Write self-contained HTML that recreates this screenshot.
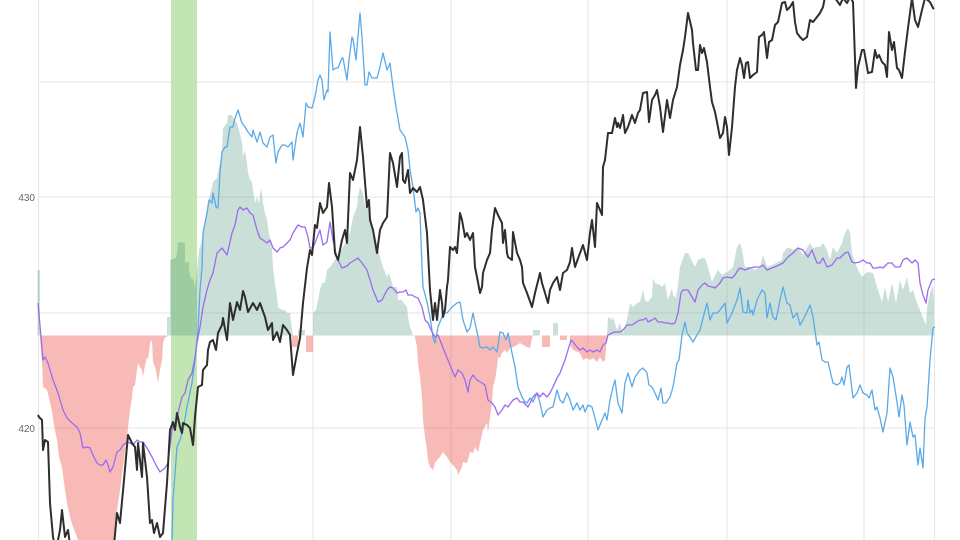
<!DOCTYPE html>
<html><head><meta charset="utf-8"><style>
html,body{margin:0;padding:0;background:#fff;}
svg{display:block;}
text{font-family:"Liberation Sans",sans-serif;font-size:10px;fill:#666;}
</style></head><body>
<svg width="960" height="540" viewBox="0 0 960 540" xmlns="http://www.w3.org/2000/svg">
<g stroke="#e6e6e6" stroke-width="1" fill="none">
<line x1="38" y1="82" x2="934" y2="82"/>
<line x1="38" y1="197" x2="934" y2="197"/>
<line x1="38" y1="313" x2="934" y2="313"/>
<line x1="38" y1="428" x2="934" y2="428"/>
<line x1="38.5" y1="0" x2="38.5" y2="540"/>
<line x1="176" y1="0" x2="176" y2="540"/>
<line x1="313" y1="0" x2="313" y2="540"/>
<line x1="451" y1="0" x2="451" y2="540"/>
<line x1="588" y1="0" x2="588" y2="540"/>
<line x1="727" y1="0" x2="727" y2="540"/>
<line x1="864" y1="0" x2="864" y2="540"/>
<line x1="934.5" y1="0" x2="934.5" y2="540"/>
</g>
<text x="35" y="201" text-anchor="end">430</text>
<text x="35" y="432" text-anchor="end">420</text>
<rect x="171" y="0" width="26" height="540" fill="#c2e5b3"/>
<!-- positive bars -->
<g fill="rgba(60,140,110,0.28)">
<polygon points="37.5,335.5 37.5,270 40,270 40,335.5"/>
<polygon points="167,335.5 167,317 170,317 170,260 176,258 177,253 178,242 185,243 185,263 189,262 189,270 191,278 194,280 194,288 196,280 197,270 199,250 202,240 203,230 205,220 208,203 212,187 213,182 217,178 218,172 222,153 223,128 227,123 228,115 232,115 233,118 237,123 239,130 242,143 243,157 245,150 247,163 248,173 250,180 252,182 253,190 255,203 257,197 259,203 261,188 262,193 263,203 265,213 267,220 269,233 272,250 273,267 275,283 277,297 278,307 282,310 285,310 287,313 290,313 292,330 293,335.5"/>
<polygon points="298,335.5 298,330 305,330 305,335.5"/>
<polygon points="313,335.5 313,313 316,310 320,290 322,283 325,283 327,270 330,267 333,263 337,257 340,253 343,247 347,240 350,233 353,217 357,207 358,197 360,187 363,193 365,207 368,200 370,213 373,227 377,243 380,257 383,267 387,277 389,273 392,283 393,287 397,287 398,300 402,300 403,302 407,307 408,317 410,327 413,335 414,335.5"/>
<polygon points="533,335.5 533,330 540,330 540,335.5"/>
<polygon points="553,335.5 553,323 558,323 558,335.5"/>
<polygon points="607,335.5 608,317 612,320 613,317 617,330 620,323 623,333 627,320 630,303 633,307 637,303 640,302 643,290 645,300 648,302 652,297 653,278 655,283 660,285 662,287 665,283 668,300 672,288 673,295 676,298 678,285 680,267 685,253 688,253 690,257 693,263 695,267 698,260 702,258 705,258 708,267 712,282 715,275 718,270 722,275 727,272 730,270 733,267 737,247 740,243 742,250 745,267 750,267 755,270 760,267 763,255 767,267 772,265 778,262 782,260 783,253 787,248 790,248 793,250 797,248 800,250 803,255 807,248 810,243 813,248 817,247 820,247 823,243 827,250 830,260 833,247 837,253 840,247 842,243 845,233 848,228 850,233 852,253 855,263 857,267 858,270 862,277 867,272 873,273 878,290 882,302 885,287 888,302 892,283 896,303 900,280 903,290 907,277 910,293 913,290 917,303 920,310 923,318 926,325 927,308 930,293 933,285 934,303 934,335.5"/>
</g>
<!-- negative bars -->
<g fill="rgba(235,90,80,0.42)">
<polygon points="40,335.5 40,337 42,363 43,387 45,388 47,390 49,398 52,412 54,425 57,440 59,457 62,467 64,483 67,503 70,517 73,527 77,537 80,545 113,545 117,510 120,490 123,467 127,437 130,410 132,398 133,387 135,385 137,370 138,363 140,367 142,370 143,377 145,365 147,357 148,360 150,343 152,340 153,362 156,370 158,383 160,370 162,360 163,343 165,337 167,337 167,335.5"/>
<polygon points="292,335.5 292,347 298,347 298,335.5"/>
<polygon points="306,335.5 306,352 313,352 313,335.5"/>
<polygon points="414,335.5 415,337 417,347 418,363 420,377 422,397 423,420 425,437 427,450 428,460 430,467 433,470 435,463 437,460 440,457 443,452 447,457 450,462 453,465 457,470 458,475 462,467 463,462 467,463 470,452 473,453 475,447 478,452 480,443 483,430 487,423 488,432 490,417 492,403 493,387 495,380 497,367 498,357 500,358 502,353 505,350 507,353 510,348 513,347 517,345 520,343 523,345 527,347 530,348 532,338 533,335.5"/>
<polygon points="542,335.5 542,347 550,347 550,335.5"/>
<polygon points="560,335.5 560,340 567,340 567,335.5"/>
<polygon points="570,335.5 570,345 573,350 580,353 583,360 587,358 590,360 593,358 597,362 600,357 603,362 605,360 607,337 607,335.5"/>
</g>
<!-- blue -->
<polyline fill="none" stroke="#5aa9e8" stroke-width="1.3" stroke-linejoin="round" points="168,560 172,540 173,500 177,447 180,440 183,430 187,407 192,383 195,360 198,330 200,290 202,268 203,233 207,213 209,200 212,203 213,193 216,207 218,208 220,173 222,152 225,147 227,147 230,127 233,127 235,118 238,110 242,123 245,127 248,132 252,137 253,130 257,142 260,132 263,143 267,147 270,137 273,135 276,163 278,152 282,145 285,145 288,147 292,142 293,160 297,133 300,123 303,137 306,103 308,107 312,108 315,97 318,80 320,75 322,80 324,100 327,90 328,92 330,32 333,70 336,68 338,68 342,58 343,58 347,80 349,60 352,37 353,39 356,60 360,13 362,37 365,85 367,85 369,72 372,78 377,78 380,67 383,53 387,70 390,63 393,87 396,107 400,130 405,137 408,150 410,170 413,187 416,212 418,208 420,213 422,267 423,287 427,302 430,317 433,337 435,343 438,327 442,317 443,313 447,313 452,307 457,303 460,302 463,320 467,332 470,328 473,313 477,332 480,347 483,348 487,347 490,350 493,347 497,352 500,332 503,333 506,340 508,333 512,353 515,367 518,387 522,397 525,402 527,403 530,398 533,402 537,393 540,403 543,417 547,410 550,408 553,407 557,390 560,400 563,403 567,393 570,400 573,410 577,403 580,410 583,405 585,412 588,405 592,407 595,418 598,430 602,420 605,413 607,420 610,400 613,387 615,380 618,403 622,413 625,383 628,373 632,387 635,377 640,370 643,368 647,373 649,385 652,387 655,393 658,400 661,388 663,403 666,403 670,397 673,387 677,363 679,360 682,335 685,322 687,333 690,337 693,342 697,335 700,330 703,318 707,303 710,320 713,313 717,313 720,310 725,303 727,323 732,313 737,300 740,288 743,312 747,313 748,300 750,313 752,310 753,315 757,300 762,290 765,293 767,318 770,303 773,317 776,320 780,300 783,287 787,303 790,305 793,318 797,313 800,325 803,320 807,312 810,305 813,317 817,345 819,342 822,360 825,362 828,362 833,383 837,385 840,383 842,377 844,385 847,367 849,365 853,398 857,393 860,385 863,393 867,395 869,398 872,390 875,410 877,407 880,418 883,432 887,413 890,368 893,377 897,402 899,417 902,395 904,405 907,445 910,422 913,437 915,435 918,465 920,448 923,468 925,418 927,407 930,360 933,328 935,327"/>
<!-- purple -->
<polyline fill="none" stroke="#9b6bef" stroke-width="1.3" stroke-linejoin="round" points="38,303 41,337 43,360 45,357 48,363 53,380 58,393 63,410 67,418 72,423 77,427 80,433 83,448 87,447 90,448 93,455 97,463 100,465 103,465 106,460 108,465 110,472 113,467 117,452 120,450 123,445 127,442 130,443 133,445 137,440 140,442 143,442 147,448 152,457 157,467 160,472 165,468 168,463 172,430 175,423 178,413 182,397 185,393 188,380 192,373 195,357 197,343 200,327 203,307 207,290 210,280 213,273 217,253 222,248 227,255 232,233 235,225 238,210 240,207 243,210 247,208 250,213 253,215 257,230 260,238 263,240 267,243 270,240 273,248 277,252 280,248 283,247 290,240 293,233 298,225 302,227 305,227 308,237 310,248 313,248 318,235 320,230 323,245 327,242 330,222 333,240 337,258 342,268 347,266 350,263 355,260 358,258 362,263 367,270 370,280 373,290 378,302 382,300 387,290 390,287 393,288 397,293 400,292 403,292 406,290 408,295 412,295 415,297 418,298 422,307 425,320 428,323 432,332 435,337 438,335 442,345 445,353 448,360 452,370 455,377 458,370 462,373 465,380 468,392 470,380 473,375 477,380 482,383 485,385 488,400 492,403 495,407 498,415 502,410 505,405 508,407 513,400 517,398 520,402 523,402 528,407 533,397 537,393 540,397 543,393 547,397 550,393 553,387 557,378 560,373 565,360 568,350 571,340 573,342 577,347 580,350 583,348 587,352 590,350 593,352 597,350 600,352 603,345 606,343 608,335 612,333 615,332 620,332 623,330 627,325 632,325 635,323 640,320 643,320 646,318 648,322 652,320 655,318 658,322 662,322 665,323 668,323 672,324 675,323 678,313 681,293 683,290 688,290 692,297 695,302 698,290 702,285 705,283 708,286 712,287 715,288 720,283 723,278 727,277 732,278 735,275 738,270 740,268 745,270 750,268 755,267 760,267 763,265 767,270 772,268 777,266 783,263 788,257 793,253 798,248 803,250 808,257 812,250 817,263 820,263 823,258 827,267 832,265 837,258 840,258 845,253 848,252 852,262 855,263 860,262 863,260 867,263 870,263 873,268 877,268 880,267 883,268 888,263 892,263 895,267 900,267 903,260 907,258 909,260 912,263 915,260 918,263 920,283 923,295 926,303 928,290 932,280 935,279"/>
<!-- black -->
<polyline fill="none" stroke="#2e2e2e" stroke-width="2" stroke-linejoin="round" points="38,415 39,417 42,420 43,450 45,440 48,442 50,503 53,537 56,550 60,530 62,510 65,537 68,530 70,545 75,560 80,560 90,560 100,560 110,555 114,545 117,513 120,523 124,480 128,435 132,443 135,447 137,470 138,443 142,477 143,443 147,477 150,523 152,520 154,533 157,523 160,537 163,533 167,483 170,430 173,422 175,430 177,413 180,427 182,433 183,423 187,425 190,428 193,445 195,417 198,387 202,385 203,370 207,365 208,350 210,342 213,340 216,350 218,333 222,325 223,318 227,340 230,303 233,320 237,302 240,310 243,291 245,297 248,312 253,303 257,310 260,303 265,317 268,330 272,323 273,340 277,332 280,342 283,325 287,330 290,335 293,375 297,353 300,338 303,303 307,268 310,250 312,255 315,225 317,228 320,203 323,213 327,207 329,183 332,207 335,253 338,260 342,240 345,230 347,243 350,173 353,180 357,160 360,127 363,157 367,207 369,200 370,220 373,230 377,253 380,230 383,223 387,217 390,153 393,163 397,187 400,157 402,153 403,180 405,183 408,170 410,193 413,188 417,192 420,187 423,200 427,233 430,290 433,320 435,303 437,320 440,290 442,303 443,317 445,310 447,287 448,280 450,247 453,250 455,247 457,253 460,213 462,220 465,237 467,233 470,240 473,233 475,267 477,277 480,293 482,287 483,273 487,260 490,253 492,230 495,208 498,215 502,223 503,243 505,230 507,253 508,257 512,260 513,232 517,253 520,260 522,267 523,283 527,293 532,307 535,293 540,273 542,283 545,293 548,303 550,290 553,283 557,277 560,290 563,273 567,270 570,262 572,248 575,267 580,253 583,245 587,260 590,233 592,220 595,247 597,203 600,210 602,215 603,167 605,160 608,133 612,133 615,118 617,127 618,123 620,128 622,120 623,115 625,133 628,127 632,115 635,123 638,113 640,110 643,93 647,92 649,122 652,100 655,95 657,90 660,107 663,132 667,100 670,118 673,100 677,87 680,65 683,50 685,37 688,13 692,30 693,43 696,70 698,70 700,45 702,53 704,48 707,62 710,87 712,102 715,112 717,122 720,138 723,133 725,117 727,127 729,155 732,127 735,87 737,70 740,58 742,65 744,78 746,63 748,62 750,78 753,75 757,72 759,37 762,35 764,32 767,58 769,42 772,40 775,25 778,22 782,3 785,2 787,10 790,7 793,2 795,22 797,33 800,37 803,40 807,37 810,20 813,22 817,17 820,13 823,7 825,-3 830,-5 835,-2 840,5 843,-2 847,3 850,-3 853,2 856,88 858,67 862,50 864,50 867,67 868,73 872,72 875,50 877,58 879,55 882,62 885,65 887,77 889,32 892,50 894,42 897,68 899,70 902,78 905,52 908,28 912,-2 915,20 918,27 922,10 925,-2 930,2 933,8 934,9"/>
</svg>
</body></html>
